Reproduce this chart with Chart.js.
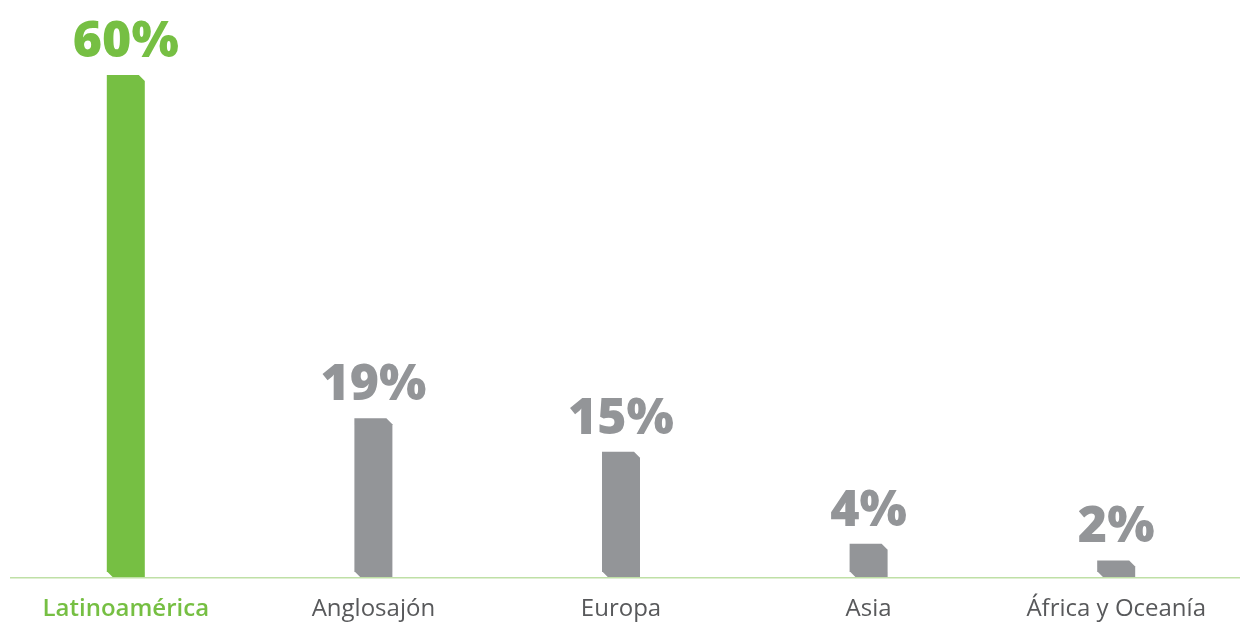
<!DOCTYPE html>
<html>
<head>
    <meta charset="utf-8" />
    <title>Distribución por región</title>
    <script src="https://cdn.jsdelivr.net/npm/chart.js"></script>
    <style>
        body { margin: 0; background: #fff; }
        #chart { display: block; }
    </style>
</head>
<body>
    <canvas id="chart" width="1240" height="625"></canvas>
    <script>
        // datos
        var regiones = ['Latinoamérica', 'Anglosajón', 'Europa', 'Asia', 'África y Oceanía'];
        var porcentajes = [60, 19, 15, 4, 2];
        var etiquetas = ['60%', '19%', '15%', '4%', '2%'];

        var verde = '#76bf43';
        var gris = '#939598';
        var colores = regiones.map(function(r, i) { return i === 0 ? verde : gris; });
        var coloresTexto = regiones.map(function(r, i) { return i === 0 ? verde : '#58595b'; });

        // barras con esquinas cortadas (arriba derecha, abajo izquierda)
        var barrasCortadas = {
            id: 'barrasCortadas',
            beforeDatasetDraw: function(chart, args) {
                var ctx = chart.ctx;
                var meta = args.meta;
                var c = 6;
                meta.data.forEach(function(bar, i) {
                    var p = bar.getProps(['x', 'y', 'base', 'width'], true);
                    var l = p.x - p.width / 2, r = p.x + p.width / 2;
                    ctx.save();
                    ctx.fillStyle = colores[i];
                    ctx.beginPath();
                    ctx.moveTo(l, p.y);
                    ctx.lineTo(r - c, p.y);
                    ctx.lineTo(r, p.y + c);
                    ctx.lineTo(r, p.base);
                    ctx.lineTo(l + c, p.base);
                    ctx.lineTo(l, p.base - c);
                    ctx.closePath();
                    ctx.fill();

                    // etiqueta de valor
                    ctx.fillStyle = colores[i];
                    ctx.font = '800 50px "Open Sans"';
                    ctx.textAlign = 'center';
                    ctx.textBaseline = 'alphabetic';
                    ctx.fillText(etiquetas[i], p.x, p.y - 18);
                    ctx.restore();
                });
                return false;
            },
            afterDraw: function(chart) {
                var ctx = chart.ctx;
                var y = chart.scales.y.getPixelForValue(0);
                ctx.save();
                ctx.strokeStyle = '#bfe0a6';
                ctx.lineWidth = 1.5;
                ctx.beginPath();
                ctx.moveTo(10, y + 0.5);
                ctx.lineTo(chart.width, y + 0.5);
                ctx.stroke();
                ctx.restore();
            }
        };

        new Chart(document.getElementById('chart'), {
            type: 'bar',
            data: {
                labels: regiones,
                datasets: [{
                    data: porcentajes,
                    backgroundColor: colores,
                    barThickness: 38
                }]
            },
            options: {
                responsive: false,
                animation: false,
                layout: { padding: { top: 75, left: 2, right: 0, bottom: -17 } },
                plugins: {
                    legend: { display: false },
                    tooltip: { enabled: false }
                },
                scales: {
                    x: {
                        grid: { display: false, drawTicks: false },
                        border: { display: false },
                        ticks: {
                            padding: 18,
                            color: coloresTexto,
                            font: function(ctx) {
                                return { family: 'Open Sans', size: 24, weight: ctx.index === 0 ? '600' : 'normal' };
                            }
                        }
                    },
                    y: {
                        display: false,
                        min: 0,
                        max: 60
                    }
                }
            },
            plugins: [barrasCortadas]
        });
    </script>
</body>
</html>
